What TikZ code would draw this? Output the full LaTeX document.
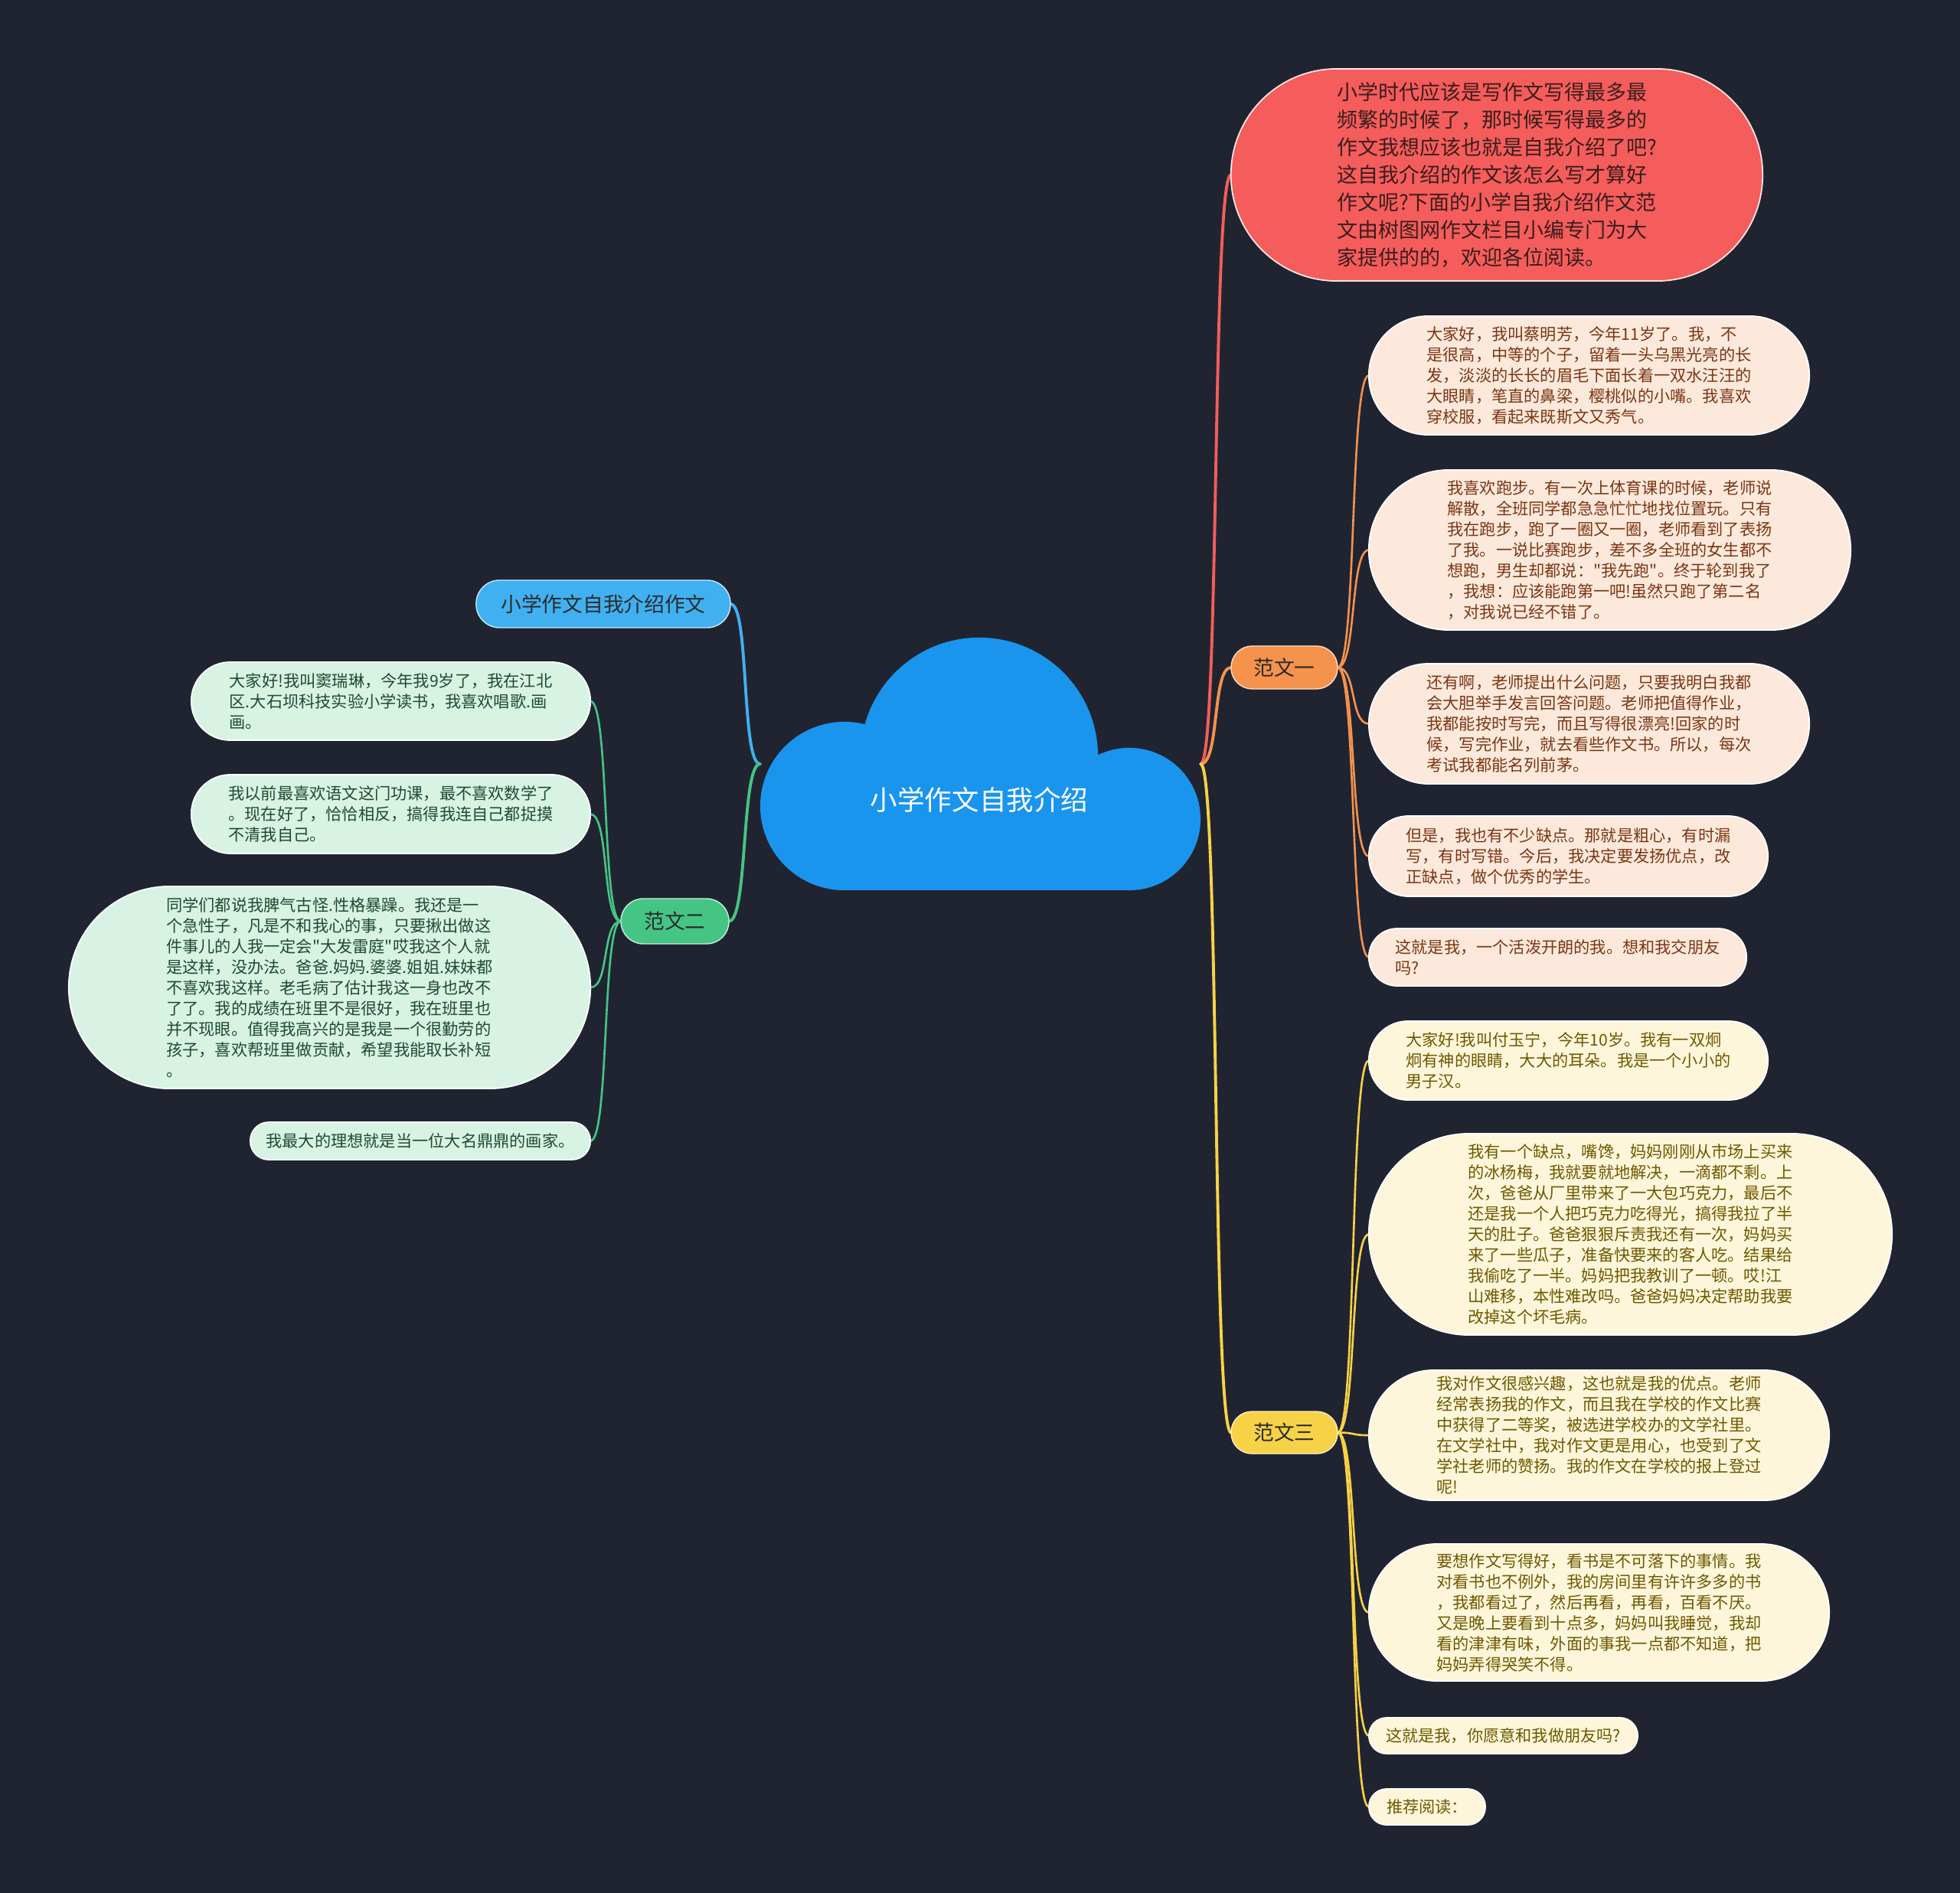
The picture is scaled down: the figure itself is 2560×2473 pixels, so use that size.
\documentclass[tikz,border=0pt]{standalone}
\usepackage{fontspec}
\newfontfamily\cjk{Noto Sans CJK SC}
\pgfdeclarelayer{back}
\pgfdeclarelayer{mid}
\pgfsetlayers{back,mid,main}
\definecolor{bgc}{HTML}{202431}
\definecolor{cloudc}{HTML}{1A95EE}
\definecolor{redc}{HTML}{F45D5B}
\definecolor{redtext}{HTML}{3A1D1D}
\definecolor{orangec}{HTML}{F5924C}
\definecolor{yellowc}{HTML}{F7D247}
\definecolor{bluec}{HTML}{41B0F0}
\definecolor{greenc}{HTML}{45C584}
\definecolor{peachfill}{HTML}{FDE9DC}
\definecolor{peachtext}{HTML}{7A3612}
\definecolor{creamfill}{HTML}{FEF6DA}
\definecolor{creamtext}{HTML}{6E5800}
\definecolor{mintfill}{HTML}{D8F3E4}
\definecolor{minttext}{HTML}{1E4A32}
\definecolor{branchtext}{HTML}{2A2A2A}
\newcommand\leaffont{\cjk\fontsize{6.03pt}{7.68pt}\selectfont}
\newcommand\introfont{\cjk\fontsize{7.68pt}{10.24pt}\selectfont}
\newcommand\branchfont{\cjk\fontsize{7.6pt}{9pt}\selectfont}
\newcommand\rootfont{\cjk\fontsize{10.1pt}{12pt}\selectfont}
\newcommand\mybox[7]{%
  \pgfmathsetmacro\mbW{(#5-#3)/100}%
  \pgfmathsetmacro\mbH{(#6-#4)/100}%
  \pgfmathsetmacro\mbX{(#3+#5)/2}%
  \pgfmathsetmacro\mbY{(#4+#6)/2}%
  \pgfmathsetmacro\mbR{\mbH/2-0.004}%
  \node[#1, minimum width=\mbW cm, minimum height=\mbH cm, rounded corners=\mbR cm] (#2) at (\mbX,\mbY) {#7};%
}
\tikzset{
  boxbase/.style={inner sep=0pt, outer sep=0pt, align=left},
  introbox/.style={boxbase, fill=redc, draw=white!85!redc, line width=0.5pt, text=redtext, font=\introfont},
  branchbox/.style={boxbase, align=center, draw=white!70!#1, line width=0.4pt, fill=#1, text=branchtext, font=\branchfont},
  peachbox/.style={boxbase, fill=peachfill, draw=white, line width=0.5pt, text=peachtext, font=\leaffont},
  creambox/.style={boxbase, fill=creamfill, draw=white, line width=0.5pt, text=creamtext, font=\leaffont},
  mintbox/.style={boxbase, fill=mintfill, draw=white, line width=0.5pt, text=minttext, font=\leaffont},
  mainlink/.style={line width=1.1pt, line cap=round},
  leaflink/.style={line width=0.75pt, line cap=round},
}
\begin{document}
\begin{tikzpicture}[x=0.01cm, y=-0.01cm]
\begin{pgfonlayer}{back}
  \fill[bgc] (0,0) rectangle (2560,2473);
\end{pgfonlayer}
\useasboundingbox (0,0) rectangle (2560,2473);

% cloud
\fill[cloudc] (1279,988) circle[radius=1.55cm];
\fill[cloudc] (1103,1053) circle[radius=1.10cm];
\fill[cloudc] (1475,1070) circle[radius=0.93cm];
\fill[cloudc] (1103,1000) rectangle (1475,1163);
\node[inner sep=0pt, outer sep=0pt, minimum width=5.75cm, minimum height=3.3cm] (root) at (1280.5,998) {};
\node[text=white, font=\rootfont, inner sep=0pt] (roottxt) at (1279,1045) {小学作文自我介绍};

% intro
\mybox{introbox}{intro}{1608}{90}{2302}{367}{小学时代应该是写作文写得最多最\\频繁的时候了，那时候写得最多的\\作文我想应该也就是自我介绍了吧?\\这自我介绍的作文该怎么写才算好\\作文呢?下面的小学自我介绍作文范\\文由树图网作文栏目小编专门为大\\家提供的的，欢迎各位阅读。}

% branches
\mybox{branchbox=orangec}{b1}{1608}{844}{1747}{900}{范文一}
\mybox{branchbox=yellowc}{b3}{1608}{1844}{1747}{1899}{范文三}
\mybox{branchbox=bluec}{bl}{622}{758}{954}{820}{小学作文自我介绍作文}
\mybox{branchbox=greenc}{b2}{811}{1174}{952}{1233}{范文二}

% 范文一 leaves
\mybox{peachbox}{o1}{1788}{413}{2363}{568}{大家好，我叫蔡明芳，今年11岁了。我，不\\是很高，中等的个子，留着一头乌黑光亮的长\\发，淡淡的长长的眉毛下面长着一双水汪汪的\\大眼睛，笔直的鼻梁，樱桃似的小嘴。我喜欢\\穿校服，看起来既斯文又秀气。}
\mybox{peachbox}{o2}{1788}{614}{2417}{823}{我喜欢跑步。有一次上体育课的时候，老师说\\解散，全班同学都急急忙忙地找位置玩。只有\\我在跑步，跑了一圈又一圈，老师看到了表扬\\了我。一说比赛跑步，差不多全班的女生都不\\想跑，男生却都说："我先跑"。终于轮到我了\\，我想：应该能跑第一吧!虽然只跑了第二名\\，对我说已经不错了。}
\mybox{peachbox}{o3}{1788}{867}{2363}{1024}{还有啊，老师提出什么问题，只要我明白我都\\会大胆举手发言回答问题。老师把值得作业，\\我都能按时写完，而且写得很漂亮!回家的时\\候，写完作业，就去看些作文书。所以，每次\\考试我都能名列前茅。}
\mybox{peachbox}{o4}{1788}{1066}{2309}{1171}{但是，我也有不少缺点。那就是粗心，有时漏\\写，有时写错。今后，我决定要发扬优点，改\\正缺点，做个优秀的学生。}
\mybox{peachbox}{o5}{1788}{1213}{2281}{1288}{这就是我，一个活泼开朗的我。想和我交朋友\\吗?}

% 范文三 leaves
\mybox{creambox}{y1}{1788}{1334}{2309}{1437}{大家好!我叫付玉宁，今年10岁。我有一双炯\\炯有神的眼睛，大大的耳朵。我是一个小小的\\男子汉。}
\mybox{creambox}{y2}{1788}{1481}{2471}{1744}{我有一个缺点，嘴馋，妈妈刚刚从市场上买来\\的冰杨梅，我就要就地解决，一滴都不剩。上\\次，爸爸从厂里带来了一大包巧克力，最后不\\还是我一个人把巧克力吃得光，搞得我拉了半\\天的肚子。爸爸狠狠斥责我还有一次，妈妈买\\来了一些瓜子，准备快要来的客人吃。结果给\\我偷吃了一半。妈妈把我教训了一顿。哎!江\\山难移，本性难改吗。爸爸妈妈决定帮助我要\\改掉这个坏毛病。}
\mybox{creambox}{y3}{1788}{1790}{2389}{1960}{我对作文很感兴趣，这也就是我的优点。老师\\经常表扬我的作文，而且我在学校的作文比赛\\中获得了二等奖，被选进学校办的文学社里。\\在文学社中，我对作文更是用心，也受到了文\\学社老师的赞扬。我的作文在学校的报上登过\\呢!}
\mybox{creambox}{y4}{1788}{2017}{2389}{2196}{要想作文写得好，看书是不可落下的事情。我\\对看书也不例外，我的房间里有许许多多的书\\，我都看过了，然后再看，再看，百看不厌。\\又是晚上要看到十点多，妈妈叫我睡觉，我却\\看的津津有味，外面的事我一点都不知道，把\\妈妈弄得哭笑不得。}
\mybox{creambox}{y5}{1788}{2244}{2139}{2291}{这就是我，你愿意和我做朋友吗?}
\mybox{creambox}{y6}{1788}{2337}{1940}{2384}{推荐阅读：}

% 范文二 leaves
\mybox{mintbox}{g1}{250}{865}{771}{967}{大家好!我叫窦瑞琳，今年我9岁了，我在江北\\区.大石坝科技实验小学读书，我喜欢唱歌.画\\画。}
\mybox{mintbox}{g2}{250}{1012}{771}{1115}{我以前最喜欢语文这门功课，最不喜欢数学了\\。现在好了，恰恰相反，搞得我连自己都捉摸\\不清我自己。}
\mybox{mintbox}{g3}{90}{1158}{771}{1422}{同学们都说我脾气古怪.性格暴躁。我还是一\\个急性子，凡是不和我心的事，只要揪出做这\\件事儿的人我一定会"大发雷庭"哎我这个人就\\是这样，没办法。爸爸.妈妈.婆婆.姐姐.妹妹都\\不喜欢我这样。老毛病了估计我这一身也改不\\了了。我的成绩在班里不是很好，我在班里也\\并不现眼。值得我高兴的是我是一个很勤劳的\\孩子，喜欢帮班里做贡献，希望我能取长补短\\。}
\mybox{mintbox}{g4}{327}{1466}{771}{1515}{我最大的理想就是当一位大名鼎鼎的画家。}

\begin{pgfonlayer}{mid}
  % main connectors
  \draw[mainlink, redc] (root.east) .. controls +(25,0) and +(-25,0) .. (intro.west);
  \draw[mainlink, orangec] (root.east) .. controls +(25,0) and +(-25,0) .. (b1.west);
  \draw[mainlink, yellowc] (root.east) .. controls +(25,0) and +(-25,0) .. (b3.west);
  \draw[mainlink, bluec] (root.west) .. controls +(-25,0) and +(25,0) .. (bl.east);
  \draw[mainlink, greenc] (root.west) .. controls +(-25,0) and +(25,0) .. (b2.east);
  % 范文一
  \foreach \n in {o1,o2,o3,o4,o5}
    \draw[leaflink, orangec] (b1.east) .. controls +(25,0) and +(-25,0) .. (\n.west);
  % 范文三
  \foreach \n in {y1,y2,y3,y4,y5,y6}
    \draw[leaflink, yellowc] (b3.east) .. controls +(25,0) and +(-25,0) .. (\n.west);
  % 范文二
  \foreach \n in {g1,g2,g3,g4}
    \draw[leaflink, greenc] (b2.west) .. controls +(-25,0) and +(25,0) .. (\n.east);
\end{pgfonlayer}
\end{tikzpicture}
\end{document}
